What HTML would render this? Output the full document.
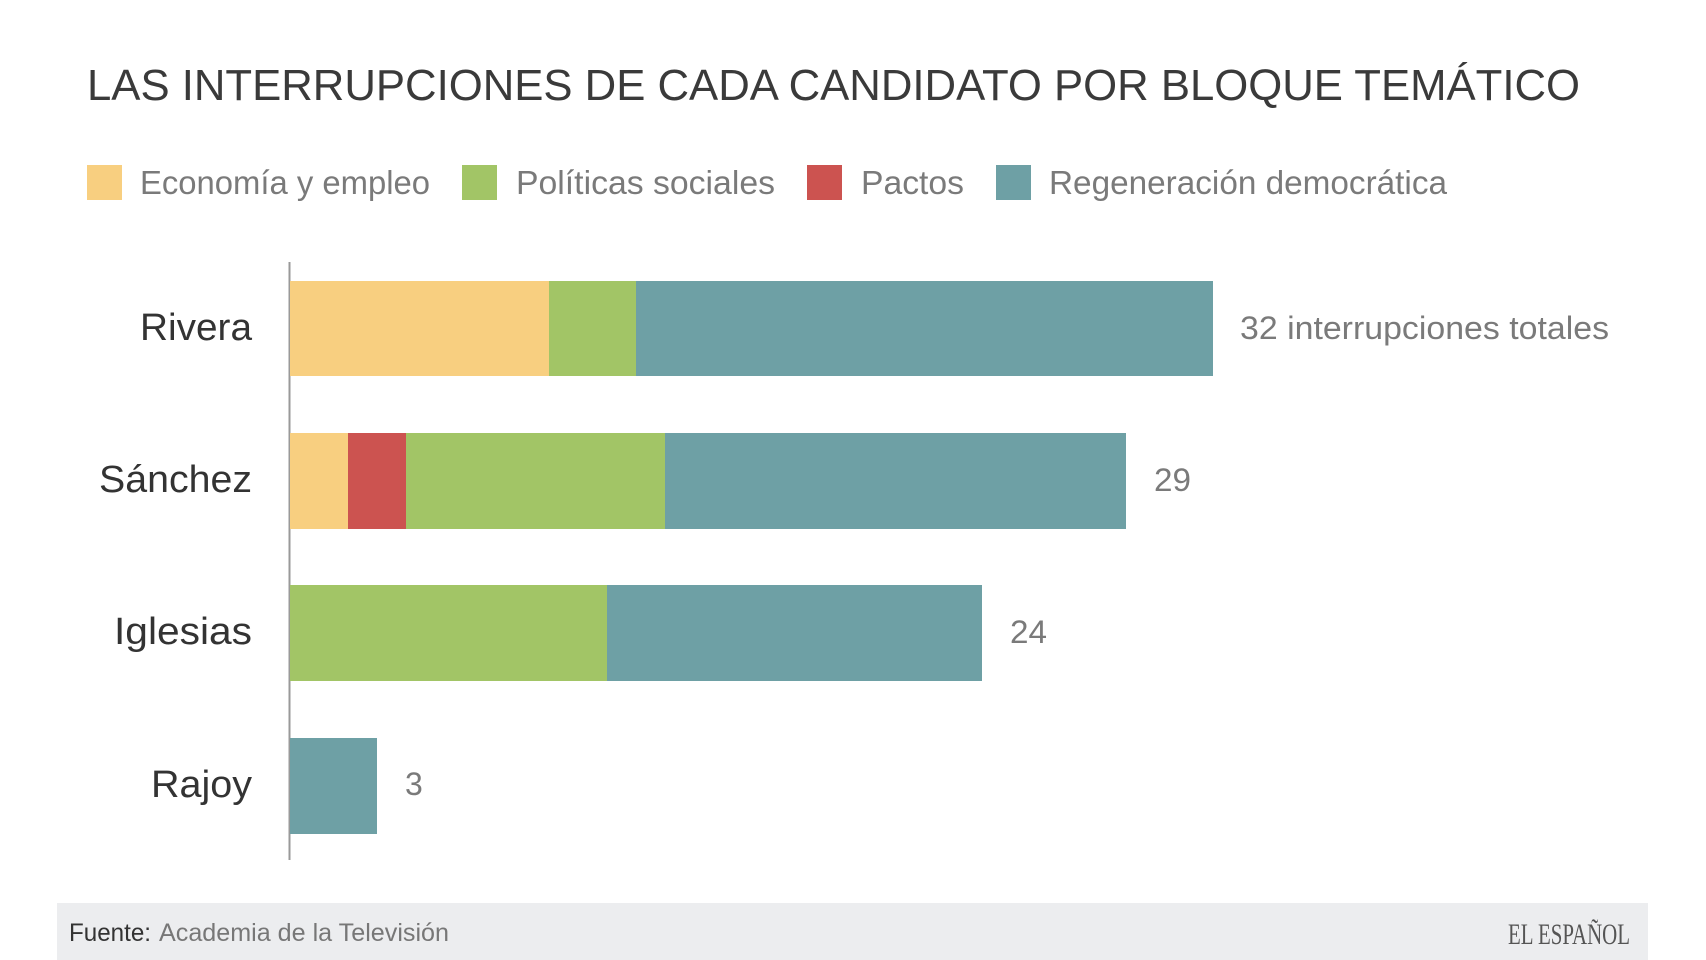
<!DOCTYPE html>
<html><head><meta charset="utf-8"><style>
html,body{margin:0;padding:0;background:#fff;}
svg{display:block;}
text{font-family:"Liberation Sans",sans-serif;}
</style></head><body>
<svg width="1706" height="960" viewBox="0 0 1706 960" xmlns="http://www.w3.org/2000/svg">
<rect width="1706" height="960" fill="#fff"/>
<text x="87" y="100" font-size="44" fill="#3a3a3a" textLength="1493" lengthAdjust="spacingAndGlyphs">LAS INTERRUPCIONES DE CADA CANDIDATO POR BLOQUE TEMÁTICO</text>
<rect x="87" y="165" width="35" height="35" fill="#f8cf80"/>
<text x="140" y="194" font-size="33" fill="#7a7a7a" textLength="290" lengthAdjust="spacingAndGlyphs">Economía y empleo</text>
<rect x="462" y="165" width="35" height="35" fill="#a2c566"/>
<text x="516" y="194" font-size="33" fill="#7a7a7a" textLength="259" lengthAdjust="spacingAndGlyphs">Políticas sociales</text>
<rect x="807" y="165" width="35" height="35" fill="#cc5350"/>
<text x="861" y="194" font-size="33" fill="#7a7a7a" textLength="103" lengthAdjust="spacingAndGlyphs">Pactos</text>
<rect x="996" y="165" width="35" height="35" fill="#6ea0a5"/>
<text x="1049" y="194" font-size="33" fill="#7a7a7a" textLength="398" lengthAdjust="spacingAndGlyphs">Regeneración democrática</text>
<line x1="289.5" y1="262" x2="289.5" y2="860" stroke="#999" stroke-width="2"/>
<rect x="290" y="281" width="259" height="95" fill="#f8cf80"/>
<rect x="549" y="281" width="87" height="95" fill="#a2c566"/>
<rect x="636" y="281" width="577" height="95" fill="#6ea0a5"/>
<text x="252" y="340" font-size="38" fill="#333" text-anchor="end" textLength="112" lengthAdjust="spacingAndGlyphs">Rivera</text>
<text x="1240" y="339" font-size="32" fill="#7a7a7a" textLength="369" lengthAdjust="spacingAndGlyphs">32 interrupciones totales</text>
<rect x="290" y="433" width="58" height="96" fill="#f8cf80"/>
<rect x="348" y="433" width="58" height="96" fill="#cc5350"/>
<rect x="406" y="433" width="259" height="96" fill="#a2c566"/>
<rect x="665" y="433" width="461" height="96" fill="#6ea0a5"/>
<text x="252" y="492" font-size="38" fill="#333" text-anchor="end" textLength="153" lengthAdjust="spacingAndGlyphs">Sánchez</text>
<text x="1154" y="491" font-size="32" fill="#7a7a7a" textLength="37" lengthAdjust="spacingAndGlyphs">29</text>
<rect x="290" y="585" width="317" height="96" fill="#a2c566"/>
<rect x="607" y="585" width="375" height="96" fill="#6ea0a5"/>
<text x="252" y="644" font-size="38" fill="#333" text-anchor="end" textLength="138" lengthAdjust="spacingAndGlyphs">Iglesias</text>
<text x="1010" y="643" font-size="32" fill="#7a7a7a" textLength="37" lengthAdjust="spacingAndGlyphs">24</text>
<rect x="290" y="738" width="87" height="96" fill="#6ea0a5"/>
<text x="252" y="797" font-size="38" fill="#333" text-anchor="end" textLength="101" lengthAdjust="spacingAndGlyphs">Rajoy</text>
<text x="405" y="795" font-size="32" fill="#7a7a7a">3</text>
<rect x="57" y="903" width="1591" height="57" fill="#ecedef"/>
<text x="69" y="941" font-size="25" fill="#333" textLength="82" lengthAdjust="spacingAndGlyphs">Fuente:</text>
<text x="159" y="941" font-size="25" fill="#777" textLength="290" lengthAdjust="spacingAndGlyphs">Academia de la Televisión</text>
<text x="1508" y="944" font-size="30" fill="#555" style="font-family:'Liberation Serif',serif" textLength="122" lengthAdjust="spacingAndGlyphs">EL ESPAÑOL</text>
</svg>
</body></html>
